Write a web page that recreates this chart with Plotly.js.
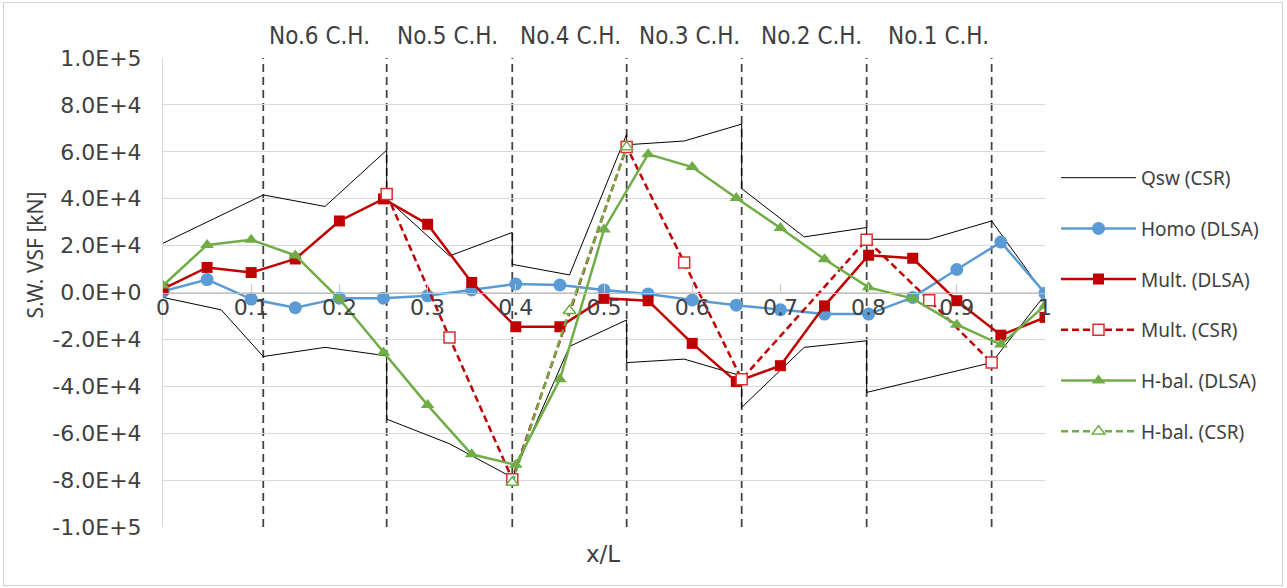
<!DOCTYPE html>
<html><head><meta charset="utf-8">
<script src="https://cdn.plot.ly/plotly-3.0.1.min.js"></script>
<style>
html,body{margin:0;padding:0;background:#fff;}
#wrap{position:relative;width:1287px;height:588px;overflow:hidden;}
#chart{width:1287px;height:588px;}
#frame{position:absolute;left:3px;top:2px;width:1278px;height:582px;border:1px solid #d0d0d0;pointer-events:none;}
</style></head><body>
<div id="wrap"><div id="chart"></div><div id="frame"></div></div>
<script>
// ---- data ----
var holdNames = ["No.6 C.H.", "No.5 C.H.", "No.4 C.H.", "No.3 C.H.", "No.2 C.H.", "No.1 C.H."];
var bulkheads = [0.1137, 0.2536, 0.396, 0.5257, 0.6561, 0.7978, 0.9395];

var xDLSA = [0, 0.05, 0.1, 0.15, 0.2, 0.25, 0.3, 0.35, 0.4, 0.45, 0.5, 0.55, 0.6, 0.65, 0.7, 0.75, 0.8, 0.85, 0.9, 0.95, 1.0];
var homoDLSA = [500, 5500, -2800, -6500, -2400, -2400, -1400, 1100, 3600, 3200, 1100, -600, -3200, -5400, -7400, -9200, -9200, -2100, 9800, 21500, -300];
var multDLSA = [1500, 10700, 8500, 14300, 30500, 39900, 29100, 4300, -14600, -14600, -2500, -3500, -21700, -38000, -31200, -5700, 15900, 14600, -3500, -18200, -10600];
var hbalDLSA = [3000, 20300, 22500, 15800, -2800, -25600, -48000, -69000, -73500, -37000, 26900, 59000, 53500, 40300, 27500, 14200, 2200, -2600, -13700, -22200, -5500];

var xMultCSR = [0.2536, 0.3248, 0.396, 0.5257, 0.5909, 0.6561, 0.7978, 0.8687, 0.9395];
var multCSR = [42000, -19200, -79600, 62100, 12800, -37000, 22500, -3300, -29900];

var xHbalCSR = [0.396, 0.4609, 0.5257];
var hbalCSR = [-81000, -7800, 62000];

// Qsw envelope: upper side left->right, then lower side right->left
var qswX = [0, 0.1137, 0.1837, 0.2536, 0.2536, 0.3248, 0.396, 0.396, 0.4609, 0.5257, 0.5257, 0.5909, 0.6561, 0.6561, 0.727, 0.7978, 0.7978, 0.8687, 0.9395, 1.0,
            0.9395, 0.7978, 0.7978, 0.727, 0.6561, 0.6561, 0.5909, 0.5257, 0.5257, 0.4609, 0.396, 0.3248, 0.2536, 0.2536, 0.1837, 0.1137, 0.066, 0];
var qswY = [21000, 41600, 36700, 60700, 40000, 15600, 25600, 12000, 7500, 67500, 63000, 64600, 71800, 44300, 23700, 27700, 22700, 22700, 30500, -1000,
            -29900, -42600, -20600, -23400, -49000, -35600, -28400, -29900, -11700, -23000, -78900, -64500, -54000, -27000, -23400, -27300, -7400, -2100];

var yTickVals = [100000, 80000, 60000, 40000, 20000, 0, -20000, -40000, -60000, -80000, -100000];
var yTickText = ["1.0E+5", "8.0E+4", "6.0E+4", "4.0E+4", "2.0E+4", "0.0E+0", "-2.0E+4", "-4.0E+4", "-6.0E+4", "-8.0E+4", "-1.0E+5"];

// ---- style ----
var TXT = '#404040';
var FONT = 'DejaVu Sans, sans-serif';
var BLUE = '#5B9BD5', RED = '#C00000', GREEN = '#70AD47';

var traces = [
  {x: qswX, y: qswY, name: 'Qsw (CSR)', mode: 'lines', legendgroup: 'g1',
   line: {color: '#000000', width: 1}},
  {x: xDLSA, y: homoDLSA, name: 'Homo (DLSA)', mode: 'lines+markers', legendgroup: 'g2',
   line: {color: BLUE, width: 2.5}, marker: {symbol: 'circle', size: 13, color: BLUE}},
  {x: xDLSA, y: multDLSA, name: 'Mult. (DLSA)', mode: 'lines+markers', legendgroup: 'g3',
   line: {color: RED, width: 2.5}, marker: {symbol: 'square', size: 11, color: RED}},
  {x: xMultCSR, y: multCSR, name: 'Mult. (CSR)', mode: 'lines+markers', legendgroup: 'g4',
   line: {color: RED, width: 2.5, dash: '7px,4px'}, marker: {symbol: 'square', size: 11, color: '#ffffff', line: {color: '#D83030', width: 1.5}}},
  {x: xDLSA, y: hbalDLSA, name: 'H-bal. (DLSA)', mode: 'lines+markers', legendgroup: 'g5',
   line: {color: GREEN, width: 2.5}, marker: {symbol: 'triangle-up', size: 12, color: GREEN}},
  {x: xHbalCSR, y: hbalCSR, name: 'H-bal. (CSR)', mode: 'lines+markers', legendgroup: 'g6',
   line: {color: GREEN, width: 2.5, dash: '7px,4px'}, marker: {symbol: 'triangle-up', size: 11, color: '#ffffff', line: {color: GREEN, width: 1.5}}}
];

var shapes = bulkheads.map(function (b) {
  return {type: 'line', xref: 'x', yref: 'paper', x0: b, x1: b, y0: 0, y1: 1, layer: 'below',
          line: {color: '#404040', width: 1.75, dash: '8px,5px'}};
});

var labelX = [0.178, 0.323, 0.4615, 0.5964, 0.7358, 0.8787];
var annotations = holdNames.map(function (n, i) {
  return {text: n, xref: 'paper', yref: 'paper', x: labelX[i], y: 1.046, showarrow: false,
          xanchor: 'center', yanchor: 'middle',
          font: {family: 'DejaVu Sans Condensed, Liberation Sans Narrow, sans-serif', size: 24, color: TXT}};
});
annotations.push({text: 'S.W. VSF [kN]', xref: 'paper', yref: 'paper', x: -0.145, y: 0.579, textangle: -90,
  showarrow: false, xanchor: 'center', yanchor: 'middle', font: {family: 'Noto Sans, sans-serif', size: 21, color: TXT}});
annotations.push({text: 'x/L', xref: 'paper', yref: 'paper', x: 0.4989, y: -0.0586,
  showarrow: false, xanchor: 'center', yanchor: 'middle', font: {family: FONT, size: 23, color: TXT}});

var layout = {
  width: 1287, height: 588,
  margin: {l: 163, r: 242, t: 58, b: 61, pad: 0, autoexpand: false},
  paper_bgcolor: '#ffffff', plot_bgcolor: '#ffffff',
  showlegend: true,
  legend: {x: 1.0125, xanchor: 'left', y: 0.785, yanchor: 'top', tracegroupgap: 23, itemwidth: 75,
           font: {family: 'Noto Sans, sans-serif', size: 19, color: TXT}, bgcolor: 'rgba(0,0,0,0)'},
  xaxis: {range: [0, 1], tick0: 0, dtick: 0.1, showgrid: false, zeroline: false,
          showline: true, linecolor: '#bfbfbf', linewidth: 1,
          anchor: 'free', position: 0.5, ticks: 'inside', ticklen: 9, tickcolor: '#c8c8c8', tickwidth: 1,
          ticklabelstandoff: -5,
          tickfont: {family: FONT, size: 22, color: TXT}},
  yaxis: {range: [-100000, 100000], tickvals: yTickVals, ticktext: yTickText,
          showgrid: true, gridcolor: '#d9d9d9', gridwidth: 1, zeroline: false,
          showline: true, linecolor: '#d9d9d9', ticks: '', ticklabelstandoff: 16,
          tickfont: {family: FONT, size: 22, color: TXT}},
  shapes: shapes,
  annotations: annotations
};

Plotly.newPlot('chart', traces, layout, {staticPlot: true, displayModeBar: false});
</script>
</body></html>
